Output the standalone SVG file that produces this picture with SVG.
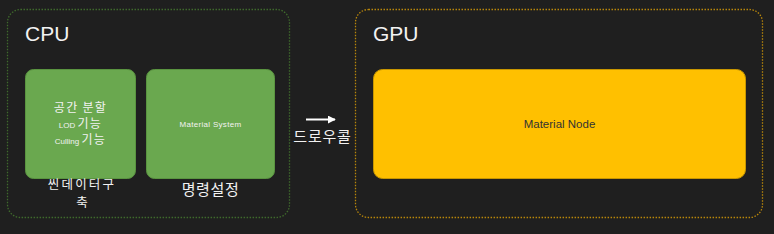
<svg xmlns="http://www.w3.org/2000/svg" width="774" height="234" viewBox="0 0 774 234">
<style>
.bg{fill:#1f1f1f}
.cont{fill:none;stroke-width:1.3;stroke-dasharray:1.5 1.5}
.green{fill:#6aa84f;stroke:#5a9440;stroke-width:1}
.yellow{fill:#ffc000;stroke:#c89600;stroke-width:1}
.t{font-family:"Liberation Sans","Noto Sans CJK KR",sans-serif;fill:#f2f2f2}
.kr{font-family:"Noto Sans CJK KR","Liberation Sans",sans-serif;fill:#f2f2f2}
</style>
<defs>
<marker id="ah" viewBox="0 0 10 10" refX="9" refY="5" markerWidth="4" markerHeight="4" orient="auto">
<path d="M0,0 L10,5 L0,10 z" fill="#ffffff"/>
</marker>
</defs>
<rect class="bg" x="0" y="0" width="774" height="234"/>
<g id="cpu">
<rect class="cont" x="7.5" y="9.5" width="282" height="208" rx="13" stroke="#3f6a2c"/>
<text class="t" x="25" y="41" font-size="21">CPU</text>
</g>
<g id="gpu">
<rect class="cont" x="355.5" y="9.5" width="407" height="208" rx="13" stroke="#b8860b"/>
<text class="t" x="373" y="41" font-size="21">GPU</text>
</g>
<g id="scene">
<rect class="green" x="25.5" y="69.5" width="110" height="109" rx="8"/>
<text class="kr" x="80.5" y="112" font-size="12" letter-spacing="1.3" text-anchor="middle">공간 분할</text>
<text x="80.5" y="128" text-anchor="middle"><tspan class="t" font-size="8">LOD </tspan><tspan class="kr" font-size="12" letter-spacing="1.3">기능</tspan></text>
<text x="80.5" y="144" text-anchor="middle"><tspan class="t" font-size="8">Culling </tspan><tspan class="kr" font-size="12" letter-spacing="1.3">기능</tspan></text>
<text class="kr" x="82" y="188.5" font-size="12.5" letter-spacing="2.2" text-anchor="middle">씬데이터구</text>
<text class="kr" x="82" y="206.5" font-size="12.5" text-anchor="middle">축</text>
</g>
<g id="material-system">
<rect class="green" x="146.5" y="69.5" width="128" height="109" rx="8"/>
<text class="t" x="210.5" y="127" font-size="8" letter-spacing="0.3" text-anchor="middle">Material System</text>
<text class="kr" x="210.5" y="195" font-size="15" letter-spacing="0.6" text-anchor="middle">명령설정</text>
</g>
<g id="material-node">
<rect class="yellow" x="373.5" y="69.5" width="372" height="109" rx="9"/>
<text class="t" x="559.5" y="127.5" font-size="11.5" text-anchor="middle" style="fill:#333333">Material Node</text>
</g>
<g id="connectors">
<line x1="306" y1="119.5" x2="335" y2="119.5" stroke="#ffffff" stroke-width="2" marker-end="url(#ah)"/>
<text class="kr" x="322.5" y="142" font-size="15" letter-spacing="0.8" text-anchor="middle">드로우콜</text>
</g>
</svg>
